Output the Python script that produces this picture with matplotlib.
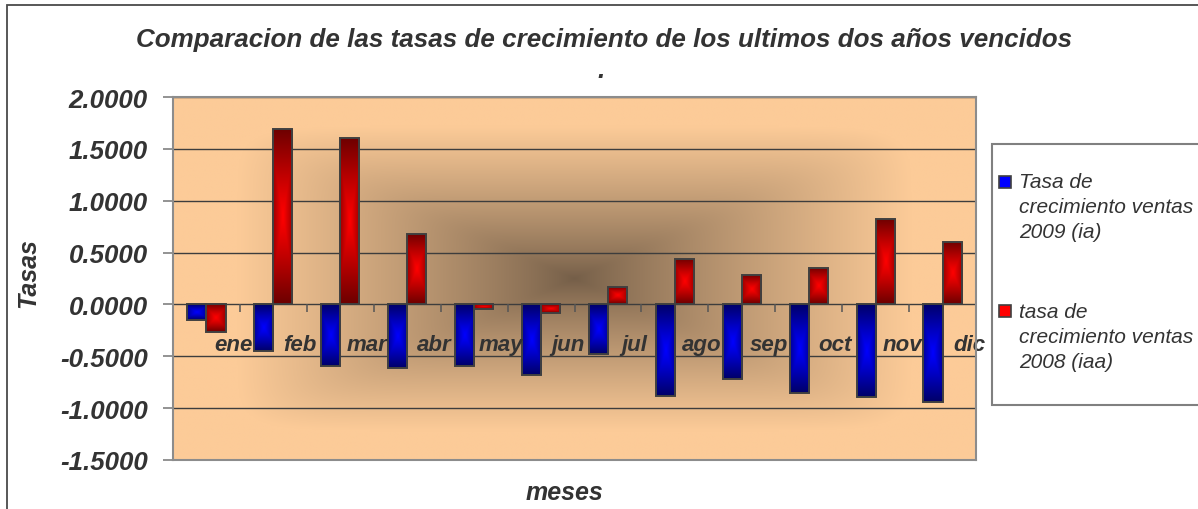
import matplotlib.pyplot as plt
import numpy as np
from matplotlib.patches import Rectangle

plt.rcParams['font.family'] = ['Liberation Sans', 'DejaVu Sans']
plt.rcParams['axes.unicode_minus'] = False

# Datos: tasas de crecimiento mensuales
meses = ['ene', 'feb', 'mar', 'abr', 'may', 'jun', 'jul', 'ago', 'sep', 'oct', 'nov', 'dic']
tasa_2009 = [-0.15, -0.45, -0.59, -0.61, -0.59, -0.68, -0.48, -0.88, -0.72, -0.855, -0.89, -0.945]
tasa_2008 = [-0.27, 1.69, 1.605, 0.675, -0.045, -0.085, 0.17, 0.44, 0.28, 0.352, 0.824, 0.605]
y_ticks = [-1.5, -1.0, -0.5, 0.0, 0.5, 1.0, 1.5, 2.0]
series = ['Tasa de\ncrecimiento ventas\n2009 (ia)', 'tasa de\ncrecimiento ventas\n2008 (iaa)']

W, H = 1198, 510
TXT = '#333333'
fig = plt.figure(figsize=(W / 100, H / 100), dpi=100)


def fx(px):
    return px / W


def fy(py):
    return 1 - py / H


# Plot area in pixel terms
ax = fig.add_axes([fx(173), fy(461), fx(976) - fx(173), fy(98) - fy(461)])
n = len(meses)

# Background: rectangular "from centre" fill, dark brown to peach
gx, gy = np.meshgrid(np.linspace(-1, 1, 600), np.linspace(-1, 1, 300))
r = (np.abs(gx) ** 10 + np.abs(gy) ** 10) ** (1 / 10)
f = np.clip(r / 0.84, 0, 1) ** 0.85
light = np.array([252, 203, 152]) / 255
dark = np.array([116, 94, 72]) / 255
bg = dark + (light - dark) * f[..., None]
ax.imshow(bg, extent=(0, n, -1.5, 2.0), aspect='auto', zorder=0, interpolation='bilinear')

# Gridlines
ax.hlines(y_ticks, 0, n, colors='#3d3d3d', lw=1.0, zorder=1)

# Bars (clustered, gap of 150%)
x = np.arange(n) + 0.5
w = 1 / 3.5
b09 = ax.bar(x - w / 2, tasa_2009, w, facecolor='none', edgecolor='#404040', lw=1.4, zorder=3)
b08 = ax.bar(x + w / 2, tasa_2008, w, facecolor='none', edgecolor='#404040', lw=1.4, zorder=3)


def shade(bars, bright, deep):
    bright = np.array(bright) / 255
    deep = np.array(deep) / 255
    u, v = np.meshgrid(np.linspace(-1, 1, 30), np.linspace(-1, 1, 60))
    t = np.maximum(0.7 * np.abs(u), np.abs(v))
    cols = bright + (deep - bright) * (t[..., None] ** 1.1)
    for b in bars:
        x0, y0 = b.get_x(), b.get_y()
        x1, y1 = x0 + b.get_width(), y0 + b.get_height()
        im = ax.imshow(cols, extent=(x0, x1, min(y0, y1), max(y0, y1)),
                       aspect='auto', zorder=2, interpolation='bilinear')
        im.set_clip_path(b)


shade(b09, (0, 0, 255), (0, 0, 105))
shade(b08, (255, 0, 0), (110, 0, 0))

# Category ticks along the zero line
ax.plot(np.arange(1, n + 1), np.zeros(n), ls='none', marker=3, ms=6, mew=1.1,
        color='#555555', zorder=2.5, clip_on=False)

# Month labels just under the zero line
for xi, m in zip(x, meses):
    ax.text(xi + 0.4, -0.44, m, ha='center', va='baseline', fontsize=16,
            fontweight='bold', fontstyle='italic', color=TXT, zorder=4)

ax.set_xlim(0, n)
ax.set_ylim(-1.5, 2.0)
ax.set_xticks([])
ax.set_yticks(y_ticks)
ax.set_yticklabels([f'{v:.4f}' for v in y_ticks], fontsize=18.6, fontweight='bold',
                   fontstyle='italic', color=TXT)
ax.tick_params(axis='y', direction='out', length=7, width=1.2, color='#808080', pad=11)
for s in ax.spines.values():
    s.set_color('#8c8c8c')
    s.set_linewidth(1.5)
    s.set_zorder(5)

# Titles
fig.text(fx(604), fy(46.7), 'Comparacion de las tasas de crecimiento de los ultimos dos años vencidos',
         ha='center', va='baseline', fontsize=18.7, fontweight='bold', fontstyle='italic', color=TXT)
fig.text(fx(601), fy(78), '.', ha='center', va='baseline', fontsize=18.7,
         fontweight='bold', fontstyle='italic', color=TXT)
fig.text(fx(28), fy(273.5), 'Tasas', rotation=90, ha='center', va='center', fontsize=18,
         fontweight='bold', fontstyle='italic', color=TXT)
fig.text(fx(564), fy(493.3), 'meses', ha='center', va='center', fontsize=18,
         fontweight='bold', fontstyle='italic', color=TXT)

# Chart border (runs off the right and bottom)
fig.patches.append(Rectangle((fx(7.3), fy(530)), 1.2, fy(5.7) - fy(530), transform=fig.transFigure,
                             fill=False, edgecolor='#4a4a4a', lw=1.3))

# Legend
fig.patches.append(Rectangle((fx(991.7), fy(406)), 0.3, fy(145) - fy(406), transform=fig.transFigure,
                             facecolor='white', edgecolor='#808080', lw=1.5))
entries = [(series[0], '#0000ff', 182.7, 188.3), (series[1], '#ff0000', 312.3, 318.3)]
for label, col, my, base in entries:
    fig.patches.append(Rectangle((fx(999), fy(my + 6)), fx(12), fy(my - 6) - fy(my + 6),
                                 transform=fig.transFigure, facecolor=col,
                                 edgecolor='#404040', lw=1.2))
    for k, line in enumerate(label.split('\n')):
        fig.text(fx(1019.3), fy(base + 25 * k), line, ha='left', va='baseline',
                 fontsize=15, fontstyle='italic', color=TXT)

fig.savefig('out.png', dpi=100)
